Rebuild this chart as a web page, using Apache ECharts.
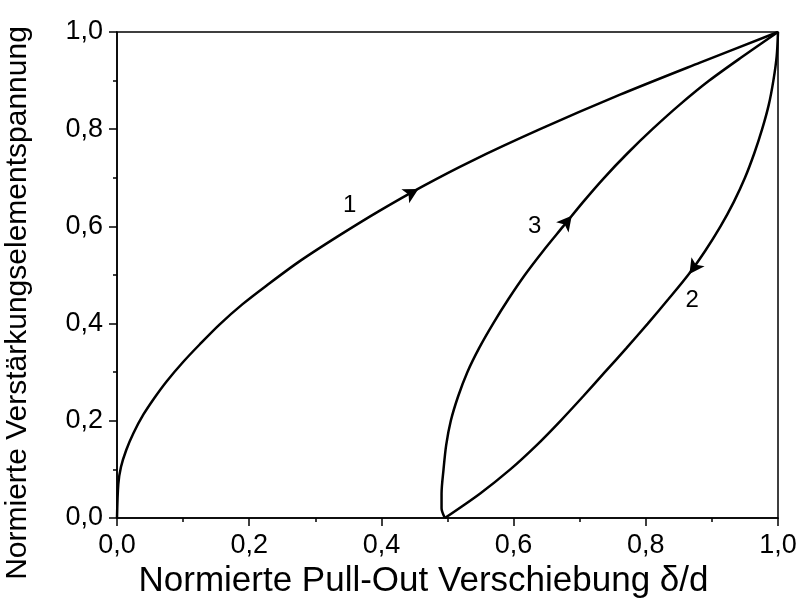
<!DOCTYPE html>
<html>
<head>
<meta charset="utf-8">
<script src="https://cdn.jsdelivr.net/npm/echarts@6/dist/echarts.min.js"></script>
<style>
  html, body { margin: 0; padding: 0; background: #fff; }
  #chart { width: 804px; height: 606px; }
</style>
</head>
<body>
<div id="chart"></div>
<script>
// Path 1: initial loading
const curve1X = [0, 0.002, 0.006, 0.014, 0.025, 0.040, 0.056, 0.075, 0.100, 0.125, 0.155, 0.190, 0.226, 0.276, 0.337, 0.397, 0.463, 0.534, 0.640, 0.761, 0.882, 1.0];
const curve1Y = [0, 0.070, 0.105, 0.140, 0.175, 0.213, 0.246, 0.281, 0.321, 0.357, 0.398, 0.440, 0.478, 0.528, 0.582, 0.632, 0.683, 0.733, 0.800, 0.871, 0.937, 1.0];

// Path 2: unloading
const curve2X = [1.0, 0.998, 0.993, 0.986, 0.976, 0.964, 0.950, 0.933, 0.913, 0.890, 0.864, 0.834, 0.803, 0.771, 0.738, 0.705, 0.671, 0.635, 0.595, 0.549, 0.496];
const curve2Y = [1.0, 0.95, 0.90, 0.85, 0.80, 0.75, 0.70, 0.65, 0.60, 0.55, 0.50, 0.45, 0.40, 0.35, 0.30, 0.25, 0.20, 0.15, 0.10, 0.05, 0.0];

// Path 3: reloading
const curve3X = [0.496, 0.491, 0.491, 0.494, 0.498, 0.505, 0.516, 0.530, 0.548, 0.569, 0.592, 0.617, 0.645, 0.675, 0.705, 0.737, 0.772, 0.810, 0.851, 0.896, 0.947, 1.0];
const curve3Y = [0.0, 0.02, 0.05, 0.10, 0.15, 0.20, 0.25, 0.30, 0.35, 0.40, 0.45, 0.50, 0.55, 0.60, 0.65, 0.70, 0.75, 0.80, 0.85, 0.90, 0.95, 1.0];

// Direction arrows placed on the paths (1, 3, 2)
const arrowX = [0.456, 0.688, 0.866];
const arrowY = [0.677, 0.622, 0.502];
const arrowAngle = [-61, -39, 145];

// Path numbers
const pathNames = ['1', '3', '2'];
const pathNameX = [0.352, 0.632, 0.870];
const pathNameY = [0.644, 0.601, 0.448];

const tickLabels = ['0,0', '0,2', '0,4', '0,6', '0,8', '1,0'];
const tickValues = [0, 0.2, 0.4, 0.6, 0.8, 1.0];

function pairs(xs, ys) { return xs.map((x, i) => [x, ys[i]]); }
function fmt(v) {
  const i = tickValues.findIndex(t => Math.abs(t - v) < 1e-6);
  return i >= 0 ? tickLabels[i] : '';
}

const FONT = 'Liberation Sans, Arial, sans-serif';

function axisCommon(name, nameGap, nameSize, namePadding) {
  return {
    type: 'value', min: 0, max: 1, interval: 0.2,
    name: name, nameLocation: 'middle', nameGap: nameGap,
    nameTextStyle: { color: '#000', fontSize: nameSize, fontFamily: FONT, padding: namePadding },
    axisLine: { show: true, onZero: false, lineStyle: { color: '#000', width: 1.5 } },
    axisTick: { show: true, inside: false, length: 8, lineStyle: { color: '#000', width: 1.5 } },
    minorTick: { show: true, splitNumber: 2, length: 4, lineStyle: { color: '#000', width: 1.5 } },
    splitLine: { show: false },
    axisLabel: { color: '#000', fontSize: 27, fontFamily: FONT, margin: 14, formatter: fmt }
  };
}

const lineStyle = { color: '#000', width: 2.5 };

const chart = echarts.init(document.getElementById('chart'));
chart.setOption({
  animation: false,
  backgroundColor: '#fff',
  grid: {
    left: 117, right: 26, top: 32, bottom: 88,
    containLabel: false, outerBoundsMode: 'none',
    show: true, borderColor: '#000', borderWidth: 1.5, backgroundColor: 'transparent'
  },
  xAxis: axisCommon('Normierte Pull-Out Verschiebung \u03b4/d', 44, 35, [0, 48, 0, 0]),
  yAxis: Object.assign(axisCommon('Normierte Verst\u00e4rkungselementspannung', 84, 30, [0, 56, 0, 0]), { nameRotate: 90 }),
  series: [
    { type: 'line', data: pairs(curve1X, curve1Y), smooth: 0.3, showSymbol: false, lineStyle: lineStyle },
    { type: 'line', data: pairs(curve2X, curve2Y), smooth: 0.3, showSymbol: false, lineStyle: lineStyle },
    { type: 'line', data: pairs(curve3X, curve3Y), smooth: 0.3, showSymbol: false, lineStyle: lineStyle },
    {
      type: 'scatter', z: 5,
      data: arrowX.map((x, i) => ({ value: [x, arrowY[i]], symbolRotate: arrowAngle[i] })),
      symbol: 'arrow', symbolSize: [12, 15],
      itemStyle: { color: '#000', opacity: 1 }
    },
    {
      type: 'scatter', symbol: 'circle', symbolSize: 0,
      itemStyle: { color: '#000', opacity: 1 },
      data: pathNames.map((n, i) => ({ name: n, value: [pathNameX[i], pathNameY[i]] })),
      label: {
        show: true, position: 'inside',
        formatter: p => p.name, color: '#000', fontSize: 24, fontFamily: FONT
      }
    }
  ]
});
</script>
</body>
</html>
